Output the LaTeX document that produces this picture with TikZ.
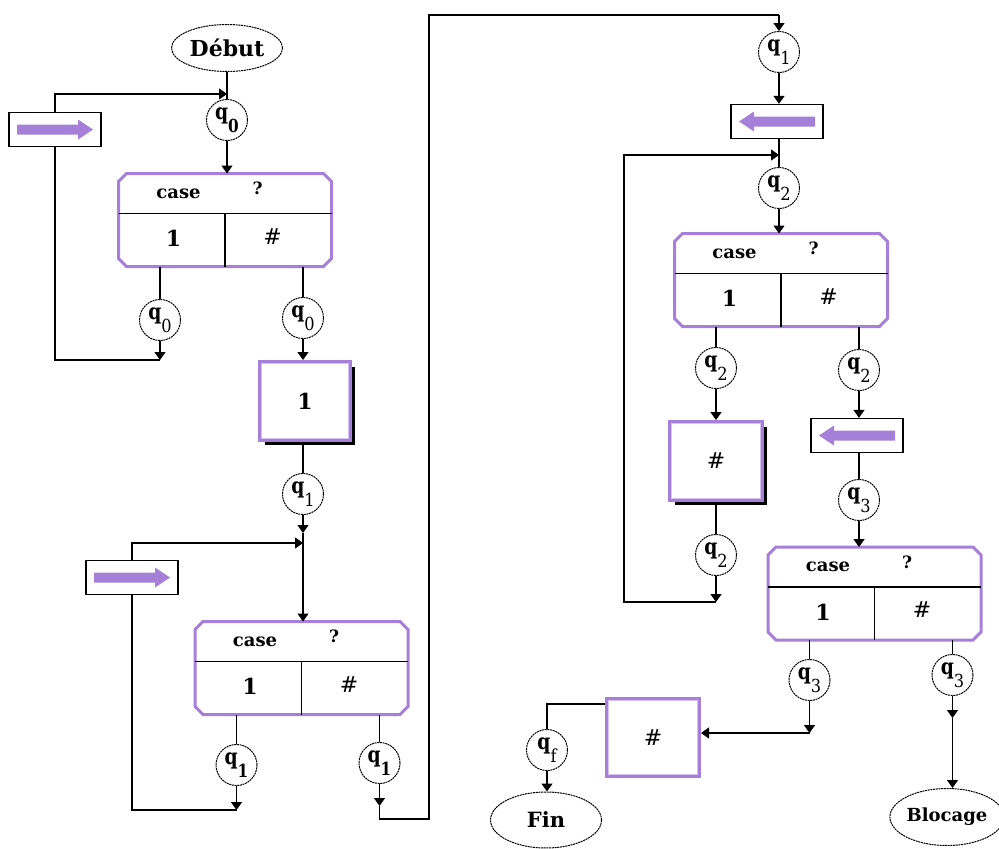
\documentclass[tikz,border=0pt]{standalone}
\usepackage{fontspec}
\usepackage{graphicx}
\setmainfont{DejaVu Serif}
\usetikzlibrary{arrows.meta,shapes.geometric,calc,shadows}
\definecolor{purp}{RGB}{166,128,216}
\definecolor{lpurp}{RGB}{212,194,240}
\newcommand\fs[1]{\fontsize{#1}{#1}\selectfont}
\newcommand\qlab[1]{\scalebox{0.85}[1]{\fs{22}\bfseries q}\raisebox{-13pt}{\scalebox{0.9}[1]{\fs{18}#1}}}
\newcommand\qlabb[1]{\scalebox{0.85}[1]{\fs{22}\bfseries q}\raisebox{-13pt}{\scalebox{0.85}[1]{\fs{18}\bfseries #1}}}
\newcommand\mycase[3]{%
  \node[casebg] (#1) at (#2,#3) {};
  \draw[purp,line width=3pt,line join=miter]
    ($(#1.north west)+(8,0)$) -- ($(#1.north east)+(-8,0)$) -- ($(#1.north east)+(0,8)$)
    -- ($(#1.south east)+(0,-8)$) -- ($(#1.south east)+(-8,0)$) -- ($(#1.south west)+(8,0)$)
    -- ($(#1.south west)+(0,-8)$) -- ($(#1.north west)+(0,8)$) -- cycle;
  \coordinate (#1-hl) at ($(#1.north west)+(0,40)$);
  \coordinate (#1-hr) at ($(#1.north east)+(0,40)$);
  \coordinate (#1-vt) at ($(#1.north)+(0,40)$);
  \draw[ln] (#1-hl) -- (#1-hr);
  \draw[ln] (#1-vt) -- (#1.south);
  \node[font=\fs{18}\bfseries,inner sep=0pt] (#1-case) at ($(#1.north west)+(60,20)$) {case};
  \node[font=\fs{17}\bfseries,inner sep=0pt] (#1-q) at ($(#1.north west)+(139,15)$) {?};
  \node[font=\fs{22}\bfseries,inner sep=0pt] (#1-one) at ($(#1.north west)+(55,65)$) {1};
  \node[font=\fs{22},inner sep=0pt] (#1-hash) at ($(#1.north west)+(154,63)$) {\#};
  \coordinate (#1-l) at ($(#1.south west)+(41.5,0)$);
  \coordinate (#1-r) at ($(#1.south west)+(184.5,0)$);
}
\newcommand\rarr[1]{\fill[purp] ($(#1)+(-38,-5)$) -- ($(#1)+(23,-5)$) -- ($(#1)+(23,-10)$) -- ($(#1)+(38,0)$) -- ($(#1)+(23,10)$) -- ($(#1)+(23,5)$) -- ($(#1)+(-38,5)$) -- cycle;}
\newcommand\larr[1]{\fill[purp] ($(#1)+(38,-5)$) -- ($(#1)+(-23,-5)$) -- ($(#1)+(-23,-10)$) -- ($(#1)+(-38,0)$) -- ($(#1)+(-23,10)$) -- ($(#1)+(-23,5)$) -- ($(#1)+(38,5)$) -- cycle;}
\newcommand\inner[1]{\draw[lpurp,line width=1.5pt] ($(#1.north west)+(3.5,3.5)$) rectangle ($(#1.south east)+(-3.5,-3.5)$);}
\begin{document}
\begin{tikzpicture}[x=1pt,y=-1pt,
  ln/.style={line width=1.3pt,black},
  arr/.style={ln,-{Triangle[width=11pt,length=8pt]}},
  state/.style={circle,draw,line width=1pt,dash pattern=on 2pt off 0.7pt,minimum size=41pt,inner sep=0pt},
  term/.style={ellipse,draw,line width=1pt,dash pattern=on 2pt off 0.7pt,inner sep=0pt,font=\bfseries},
  casebg/.style={rectangle,draw=none,minimum width=213pt,minimum height=93pt,inner sep=0pt,outer sep=0pt},
  actbox/.style={rectangle,draw,line width=1.3pt,fill=white,minimum width=92pt,minimum height=34pt,inner sep=0pt},
  wbox/.style={rectangle,draw=purp,line width=4pt,fill=white,inner sep=0pt,font=\fs{22}},
  wshadow/.style={drop shadow={opacity=1,fill=black,shadow xshift=5pt,shadow yshift=-5pt}}
]
\useasboundingbox (0,0) rectangle (999,849);

% terminals
\node[term,minimum width=111pt,minimum height=47pt,font=\fs{22}\bfseries] (deb) at (227,48) {Début};
\node[term,minimum width=111pt,minimum height=56pt,font=\fs{21}\bfseries] (fin) at (546,820) {Fin};
\node[term,minimum width=103pt,minimum height=57pt,font=\fs{18}\bfseries] (bloc) at (947,817) {Blocage};

% case boxes
\mycase{case1}{225}{220}
\mycase{case2}{301.5}{668}
\mycase{case3}{781}{280}
\mycase{case4}{874.5}{593.5}

% states
\node[state] (q0a) at (227,120) {\qlabb{0}};
\node[state] (q0b) at (160,320) {\qlab{0}};
\node[state] (q0c) at (303,318) {\qlab{0}};
\node[state] (q1a) at (303,494) {\qlab{1}};
\node[state] (q1b) at (236.5,765) {\qlabb{1}};
\node[state] (q1c) at (379.5,763) {\qlabb{1}};
\node[state] (q1d) at (779,52) {\qlab{1}};
\node[state] (q2a) at (779,188) {\qlab{2}};
\node[state] (q2b) at (716,368) {\qlab{2}};
\node[state] (q2c) at (716,555) {\qlab{2}};
\node[state] (q2d) at (859,370) {\qlab{2}};
\node[state] (q3a) at (859,500) {\qlab{3}};
\node[state] (q3b) at (809.5,680) {\qlab{3}};
\node[state] (q3c) at (952.5,675) {\qlab{3}};
\node[state] (qf) at (547,750) {\qlab{f}};

% action (move) boxes
\node[actbox] (R1) at (55,129.5) {};
\rarr{R1}
\node[actbox] (R2) at (132,577.5) {};
\rarr{R2}
\node[actbox] (L1) at (777,121.5) {};
\larr{L1}
\node[actbox] (L2) at (857,435.5) {};
\larr{L2}

% write boxes
\node[wbox,wshadow,minimum width=90pt,minimum height=78pt] (W1) at (305,401) {\textbf{1}};
\inner{W1}
\node[wbox,wshadow,minimum width=92pt,minimum height=78pt] (H1) at (716,461) {\#};
\inner{H1}
\node[wbox,minimum width=92pt,minimum height=77pt] (H2) at (653,737.5) {\#};
\inner{H2}

% coordinates
\coordinate (j0) at (227,94);
\coordinate (k1) at (160,360);
\coordinate (j1) at (303,533);
\coordinate (j1b) at (303,543);
\coordinate (k2) at (236.5,810);
\coordinate (k3) at (379.5,806);
\coordinate (t0) at (379.5,819);
\coordinate (t1) at (429,819);
\coordinate (t2) at (429,15);
\coordinate (t3) at (779,15);
\coordinate (j3) at (779,155);
\coordinate (k4) at (716,602);
\coordinate (l1) at (624,602);
\coordinate (l2) at (624,155);
\coordinate (k5) at (809.5,733);
\coordinate (k6) at (952.5,718);

% connectors, first column
\draw[ln] (deb.south) -- (q0a.north);
\draw[arr] (R1.north) |- (j0);
\draw[arr] (q0a.south) -- (q0a.south |- case1.north);
\draw[ln] (case1-l) -- (q0b.north);
\draw[arr] (q0b.south) -- (k1);
\draw[ln] (k1) -| (R1.south);
\draw[ln] (case1-r) -- (q0c.north);
\draw[arr] (q0c.south) -- (q0c.south |- W1.north);
\draw[ln] (W1.south -| q1a) -- (q1a.north);
\draw[arr] (q1a.south) -- (j1);
\draw[arr] (j1) -- (j1 |- case2.north);
\draw[arr] (R2.north) |- (j1b);
\draw[ln] (case2-l) -- (q1b.north);
\draw[arr] (q1b.south) -- (k2);
\draw[ln] (k2) -| (R2.south);
\draw[ln] (case2-r) -- (q1c.north);
\draw[arr] (q1c.south) -- (k3);
\draw[ln] (k3) -- (t0) -- (t1) -- (t2) -- (t3);
\draw[arr] (t3) -- (q1d.north);

% second column
\draw[arr] (q1d.south) -- (q1d.south |- L1.north);
\draw[ln] (L1.south -| q2a) -- (q2a.north);
\draw[arr] (q2a.south) -- (q2a.south |- case3.north);
\draw[ln] (case3-l) -- (q2b.north);
\draw[arr] (q2b.south) -- (q2b.south |- H1.north);
\draw[ln] (H1.south -| q2c) -- (q2c.north);
\draw[arr] (q2c.south) -- (k4);
\draw[arr] (k4) -- (l1) -- (l2) -- (j3);
\draw[ln] (case3-r) -- (q2d.north);
\draw[arr] (q2d.south) -- (q2d.south |- L2.north);
\draw[ln] (L2.south -| q3a) -- (q3a.north);
\draw[arr] (q3a.south) -- (q3a.south |- case4.north);
\draw[ln] (case4-l) -- (q3b.north);
\draw[arr] (q3b.south) -- (k5);
\draw[arr] (k5) -- (k5 -| H2.east);
\draw[ln] ($(H2.north west)+(0,7)$) -| (qf.north);
\draw[arr] (qf.south) -- (qf.south |- fin.north);
\draw[ln] (case4-r) -- (q3c.north);
\draw[arr] (q3c.south) -- (k6);
\draw[arr] (k6) -- (k6 |- bloc.north);
\end{tikzpicture}
\end{document}
